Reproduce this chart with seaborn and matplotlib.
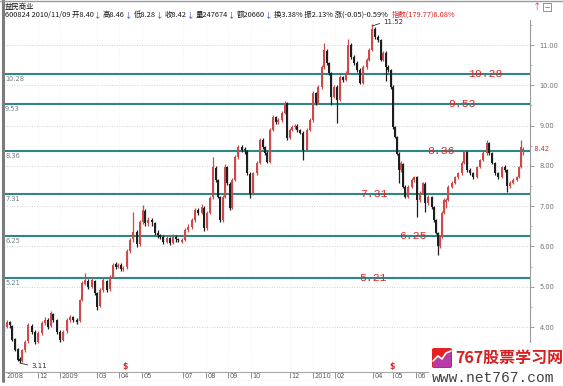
import matplotlib
matplotlib.use('Agg')
import matplotlib.pyplot as plt
import seaborn as sns
import numpy as np
import pandas as pd
from matplotlib.patches import Rectangle, FancyBboxPatch, Polygon
from matplotlib.lines import Line2D
from matplotlib.text import Annotation
import matplotlib.transforms as mtransforms

sns.set_theme(style='white')
plt.rcParams['font.family'] = ['Noto Sans CJK SC', 'DejaVu Sans']

# ---------------- data ----------------
days = [0,3,6,8,11,14,16,18,21,24,28,31,34,38,41,44,47,49,53,56,59,63,66,69,73,76,78,81,84,88,
        91,93,96,99,103,106,109,112,114,117,119,123,126,129,133,136,139,141,144,148,151,154,156,159,
        163,166,169,172,174,178,181,184,188,191,194,198,200,203,206,209,212,214,216,219,221,223,226,
        228,231,234,238,241,243,246,249,253,256,259,261,263,266,269,272,274,278,281,283,286,288,291,
        293,296,299,303,306,309,312,314,318,320,323,325,327,330,333,336,339,342,344,347,350,353,356,
        359,363,365,368,371,374,377,379,382,384,387,389,391,393,395,397,399,401,404,408,410,413,416,
        419,421,424,428,430,432,434,436,438,440,442,444,448,451,454,458,460,463,466,469,473,476,479,
        483,485,488,491,494,498,501,503,506,509,513,515,517,519]
opens = [3.95,4.00,4.12,4.02,3.70,3.45,3.20,3.16,3.42,3.65,4.02,3.88,3.62,3.85,4.10,4.18,4.02,4.33,
         4.18,3.88,3.68,3.90,4.18,4.25,4.18,4.14,4.68,5.08,5.15,5.00,5.15,4.85,4.52,4.92,5.15,4.94,
         5.25,5.56,5.50,5.55,5.45,5.48,5.90,6.18,6.35,6.05,6.60,6.88,6.58,6.65,6.58,6.33,6.28,6.24,
         6.10,6.20,6.09,6.24,6.18,6.12,6.16,6.40,6.48,6.66,6.90,6.83,6.96,6.45,6.83,7.22,7.95,7.65,
         7.22,6.65,7.23,7.97,7.56,6.96,7.65,8.22,8.46,8.40,8.38,7.80,7.30,7.82,8.08,8.64,8.46,8.32,
         8.10,8.90,9.21,9.10,9.14,9.32,9.55,8.70,8.90,8.97,9.00,8.88,8.82,8.40,8.90,9.14,9.80,9.56,
         9.96,10.45,10.86,10.55,10.30,9.72,9.96,9.64,10.20,10.13,10.30,11.00,10.70,10.55,10.38,10.06,
         10.45,10.63,10.88,11.40,11.20,11.12,10.63,10.80,10.45,10.38,9.96,8.97,8.72,8.30,7.90,8.05,
         7.48,7.23,7.48,7.65,7.72,7.15,7.33,7.56,7.08,7.23,6.98,6.65,6.33,6.00,6.24,6.83,7.10,7.15,
         7.48,7.57,7.72,7.82,8.07,8.34,7.90,7.82,7.72,7.97,8.15,8.32,8.57,8.32,8.07,7.82,7.72,7.97,
         7.90,7.50,7.57,7.65,7.72,7.97,8.40]
highs = [4.08,4.18,4.15,4.05,3.72,3.48,3.25,3.45,3.68,4.10,4.08,3.92,3.90,4.15,4.25,4.22,4.40,4.36,
         4.20,3.92,3.92,4.22,4.30,4.28,4.22,4.70,5.15,5.35,5.20,5.22,5.18,4.88,4.96,5.22,5.18,5.30,
         5.60,5.62,5.60,5.58,5.52,5.95,6.20,6.85,6.40,6.65,7.03,6.92,6.72,6.70,6.62,6.40,6.32,6.28,
         6.28,6.24,6.30,6.28,6.22,6.22,6.45,6.55,6.70,6.95,6.95,7.05,7.00,6.88,7.25,8.22,8.00,7.68,
         7.26,7.28,8.05,8.00,7.60,7.70,8.28,8.52,8.52,8.48,8.40,7.85,7.86,8.12,8.70,8.68,8.50,8.36,
         8.94,9.26,9.25,9.18,9.36,9.62,9.58,8.94,9.02,9.05,9.04,8.92,8.86,8.94,9.18,9.86,9.84,10.00,
         10.50,11.05,10.90,10.58,10.32,10.00,10.00,10.25,10.24,10.35,11.15,11.04,10.74,10.60,10.42,
         10.50,10.68,10.92,11.52,11.44,11.25,11.15,10.85,10.84,10.50,10.40,10.00,9.00,8.75,8.34,8.12,
         8.08,7.52,7.52,7.70,7.76,7.75,7.38,7.60,7.60,7.28,7.26,7.00,6.68,6.36,6.28,6.88,7.20,7.20,
         7.52,7.62,7.76,7.86,8.12,8.38,8.36,7.94,7.86,8.00,8.18,8.36,8.65,8.60,8.35,8.10,7.86,8.00,
         8.02,7.92,7.62,7.70,7.76,8.00,8.64,8.46]
lows = [3.90,3.98,3.98,3.65,3.40,3.15,3.11,3.14,3.38,3.60,3.82,3.58,3.60,3.80,4.05,3.95,4.00,4.12,
        3.84,3.62,3.65,3.86,4.12,4.12,4.08,4.12,4.64,5.05,4.95,4.96,4.80,4.42,4.50,4.88,4.88,4.90,
        5.22,5.45,5.46,5.40,5.40,5.45,5.85,6.10,5.98,6.00,6.55,6.52,6.50,6.52,6.28,6.22,6.18,6.05,
        6.08,6.04,6.06,6.12,6.10,6.08,6.14,6.36,6.44,6.62,6.78,6.80,6.38,6.42,6.80,7.18,7.60,7.20,
        6.60,6.62,7.20,7.52,6.90,6.92,7.62,8.18,8.35,8.30,7.78,7.20,7.28,7.78,8.05,8.42,8.28,8.07,
        8.08,8.86,9.05,9.04,9.10,9.28,8.64,8.66,8.86,8.92,8.85,8.78,8.14,8.36,8.86,9.10,9.52,9.54,
        9.92,10.40,10.50,10.26,9.51,9.68,9.06,9.60,10.08,10.10,10.28,10.65,10.50,10.34,10.02,10.02,
        10.40,10.60,10.84,11.15,11.08,10.60,10.60,10.10,10.34,9.92,8.92,8.68,8.26,7.57,7.86,7.45,
        7.20,7.20,7.44,7.60,6.73,7.10,7.30,6.85,7.04,6.94,6.62,6.30,5.79,5.96,6.20,6.80,6.95,7.12,
        7.44,7.54,7.68,7.78,8.04,7.86,7.78,7.68,7.70,7.94,8.12,8.28,8.28,8.04,7.78,7.68,7.70,7.86,
        7.35,7.46,7.54,7.62,7.70,7.94,8.28]
closes = [4.00,4.12,4.05,3.68,3.43,3.18,3.15,3.43,3.63,4.05,3.88,3.63,3.85,4.10,4.18,4.00,4.35,4.18,
          3.88,3.68,3.88,4.18,4.25,4.18,4.12,4.67,5.10,5.17,5.00,5.17,4.85,4.50,4.92,5.17,4.92,5.25,
          5.55,5.50,5.55,5.45,5.47,5.90,6.16,6.35,6.05,6.60,6.90,6.58,6.65,6.60,6.33,6.28,6.24,6.11,
          6.20,6.09,6.24,6.18,6.16,6.16,6.41,6.48,6.65,6.90,6.83,6.98,6.45,6.83,7.20,7.97,7.65,7.23,
          6.65,7.23,7.97,7.57,6.95,7.65,8.22,8.47,8.40,8.39,7.82,7.30,7.82,8.07,8.64,8.47,8.32,8.10,
          8.89,9.21,9.10,9.14,9.31,9.56,8.70,8.90,8.97,9.00,8.89,8.82,8.40,8.89,9.14,9.81,9.56,9.96,
          10.45,10.87,10.55,10.30,9.71,9.96,9.64,10.20,10.13,10.30,11.00,10.70,10.55,10.38,10.06,
          10.45,10.63,10.87,11.40,11.20,11.12,10.63,10.80,10.45,10.38,9.96,8.97,8.72,8.30,7.90,8.07,
          7.48,7.23,7.48,7.65,7.72,7.15,7.33,7.57,7.08,7.23,6.98,6.65,6.33,6.00,6.24,6.83,7.15,7.15,
          7.48,7.57,7.72,7.82,8.07,8.34,7.90,7.82,7.72,7.97,8.15,8.32,8.57,8.32,8.07,7.82,7.72,7.97,
          7.90,7.50,7.57,7.65,7.72,7.97,8.47,8.42]

levels = [10.28, 9.53, 8.36, 7.31, 6.25, 5.21]
level_label_day = [481, 458, 437, 370, 409, 369]

month_days = [1, 34, 56, 93, 115, 138, 179, 202, 224, 247, 286, 309, 331, 369, 389, 412]
month_labels = ['2008', '12', '2009', '03', '04', '05', '07', '08', '09', '10', '12', '2010', '02', '04', '05', '06']

price_ticks = [4, 5, 6, 7, 8, 9, 10, 11]
last_close = 8.42
peak_day, peak_val = 368, 11.52
trough_day, trough_val = 16, 3.11
split_days = [121, 388]

header_name = '益民商业'
header_parts = ["600824 2010/11/09 开8.40", "↓", "高8.46", "↓", "低8.28", "↓", "收8.42", "↓",
                "量247674", "↓", "额20660", "↓", "换3.38% 振2.13% 涨(-0.05)-0.59%", "指数(179.77)6.08%"]

df = pd.DataFrame({'day': days, 'open': opens, 'high': highs, 'low': lows, 'close': closes})

# ---------------- layout ----------------
W, H = 563, 386
fig = plt.figure(figsize=(W / 100, H / 100), dpi=100)
fig.patch.set_facecolor('white')

def fx(x):
    return x / W

def fy(y):
    return 1 - y / H

AX_L, AX_R, AX_T, AX_B = 4, 530, 20, 371
Y11, PXU = 45, 40.3   # pixel row of 11.00 and pixels per unit
ax = fig.add_axes([fx(AX_L), fy(AX_B), (AX_R - AX_L) / W, (AX_B - AX_T) / H])
ax.set_facecolor('white')
ax.set_xlim(0, AX_R - AX_L)
ax.set_ylim(11 - (AX_B - Y11) / PXU, 11 + (Y11 - AX_T) / PXU)

# grid
for v in price_ticks:
    ax.axhline(v, color='#c4c4c4', lw=0.6, ls=(0, (1, 2)), zorder=0)
for d in month_days[1:]:
    ax.axvline(d, color='#e2e2e2', lw=0.5, ls=(0, (1, 3)), zorder=0)

# level lines
for v in levels:
    ax.axhline(v, color='#2e8686', lw=1.5, zorder=1)

# candles
up = df['close'] >= df['open']
colors = np.where(up, '#cc4a4a', '#1e1e1e')
ax.vlines(df['day'], df['low'], df['high'], colors=colors, lw=0.9, zorder=3)
body_lo = np.minimum(df['open'], df['close'])
body_h = np.maximum(np.abs(df['close'] - df['open']), 0.025)
ax.bar(df['day'], body_h, bottom=body_lo, width=2.1, color=colors, linewidth=0, zorder=3)

# red level labels in the middle
for v, d in zip(levels, level_label_day):
    ax.text(d, v, f'{v:.2f}', ha='center', va='center', color='#e02424',
            fontsize=8.2, family='Liberation Mono', zorder=5)
# small left labels
for v in levels:
    ax.text(1, v - 0.05, f'{v:.2f}', ha='left', va='top', color='#6a8080',
            fontsize=4.8, family='DejaVu Sans', zorder=5)

# spines & right axis
for s in ['top', 'bottom', 'left']:
    ax.spines[s].set_visible(False)
ax.spines['right'].set_color('#9a9a9a')
ax.spines['right'].set_linewidth(0.8)
ax.yaxis.tick_right()
ax.set_yticks(price_ticks)
ax.set_yticklabels([f'{v:.2f}' for v in price_ticks], family='DejaVu Sans')
ax.set_yticks(np.arange(3.5, 11.6, 0.5), minor=True)
ax.tick_params(axis='y', which='major', right=True, length=3, width=0.6, color='#909090',
               labelsize=4.8, labelcolor='#6e6e6e', pad=4)
ax.tick_params(axis='y', which='minor', right=True, length=1.5, width=0.5, color='#a0a0a0')
ax.set_xticks([])

# last close label
ax.text(1.0, last_close, f'  {last_close:.2f}',
        transform=mtransforms.blended_transform_factory(ax.transAxes, ax.transData),
        ha='left', va='center', color='#e02424', fontsize=4.8, family='DejaVu Sans', clip_on=False)

# extreme annotations
ax.annotate(f'{peak_val:.2f}', xy=(peak_day, peak_val - 0.05), xytext=(peak_day + 11, peak_val + 0.04),
            ha='left', va='center', fontsize=5, color='#303030', family='DejaVu Sans',
            arrowprops=dict(arrowstyle='-', color='#303030', lw=0.6, shrinkA=0, shrinkB=0, relpos=(0, 0.5)))
ax.annotate(f'{trough_val:.2f}', xy=(trough_day, trough_val), xytext=(trough_day + 11, trough_val - 0.07),
            ha='left', va='center', fontsize=5, color='#303030', family='DejaVu Sans',
            arrowprops=dict(arrowstyle='-', color='#303030', lw=0.6, shrinkA=0, shrinkB=0, relpos=(0, 0.5)))
for d in split_days:
    ax.text(d, 3.03, '$', ha='center', va='center', color='#e02020', fontsize=5.5,
            family='DejaVu Sans', weight='bold')

# date strip
axd = fig.add_axes([fx(AX_L), fy(381), (AX_R - AX_L) / W, 10 / H])
axd.set_xlim(0, AX_R - AX_L)
axd.set_ylim(0, 1)
axd.axis('off')
axd.hlines([0.05, 0.95], 0, 426, color='#a8a8a8', lw=0.8)
for i, (d, lab) in enumerate(zip(month_days, month_labels)):
    if i > 0:
        axd.vlines(d, 0.35, 0.95, color='#808080', lw=0.6)
    axd.text(d + 1.5, 0.45, lab, ha='left', va='center', fontsize=4.8, color='#5a5a5a',
             family='DejaVu Sans')

# frame lines
fig.add_artist(Line2D([fx(2.5), fx(2.5)], [fy(0), fy(381)], color='#7c7c7c', lw=2.2))
fig.add_artist(Line2D([0, 1], [fy(0.5), fy(0.5)], color='#9a9a9a', lw=1.0))

# header
FS = 5.35
fig.text(fx(5), fy(6.5), header_name, fontsize=FS, color='#101010', va='center', ha='left')
part_colors = ['#151515', '#2848a8'] * 6 + ['#151515', '#e02020']
part_gaps = [0.2, 0.9] * 6 + [3.0]
prev = fig.text(fx(5), fy(19), header_parts[0], fontsize=FS, color=part_colors[0], va='bottom', ha='left')
for txt, col, gap in zip(header_parts[1:], part_colors[1:], part_gaps):
    a = Annotation(txt, xy=(1, 0), xycoords=prev, xytext=(gap, 0), textcoords='offset points',
                   fontsize=FS, color=col, va='bottom', ha='left')
    fig.add_artist(a)
    prev = a

# top-right icons
fig.text(fx(533), fy(6), '↑', fontsize=6, color='#d020a0', va='center', ha='left')
fig.add_artist(Rectangle((fx(543), fy(11)), 8 / W, 8 / H, facecolor='white', edgecolor='#808080', lw=0.6))
fig.add_artist(Line2D([fx(545), fx(549)], [fy(7), fy(7)], color='#808080', lw=0.6))

# logo area
fig.add_artist(Rectangle((fx(429), 0), (W - 429) / W, (H - 343) / H, facecolor='white', edgecolor='none', zorder=10))
fig.add_artist(FancyBboxPatch((fx(432), fy(368)), 20 / W, 20 / H, boxstyle='round,pad=0,rounding_size=0.004',
                              facecolor='#e52222', edgecolor='none', zorder=11))
fig.add_artist(Polygon([(fx(433), fy(367)), (fx(433), fy(362)), (fx(438), fy(357)), (fx(442), fy(360)),
                        (fx(446), fy(354)), (fx(451), fy(352)), (fx(451), fy(367))],
                       closed=True, facecolor='#b83aa8', edgecolor='none', zorder=12))
fig.add_artist(Line2D([fx(433), fx(438), fx(442), fx(446), fx(451)], [fy(361), fy(356), fy(359), fy(353), fy(351)],
                      color='white', lw=1.2, zorder=13))
fig.text(fx(455), fy(357.5), '767股票学习网', fontsize=11.5, color='#d81e1e', va='center', ha='left',
         weight='bold', zorder=14)
fig.text(fx(432), fy(377.5), 'www.net767.com', fontsize=10.5, color='#404040', va='center', ha='left',
         family='Liberation Mono', zorder=14)

fig.savefig('out.png', dpi=100, facecolor='white')
